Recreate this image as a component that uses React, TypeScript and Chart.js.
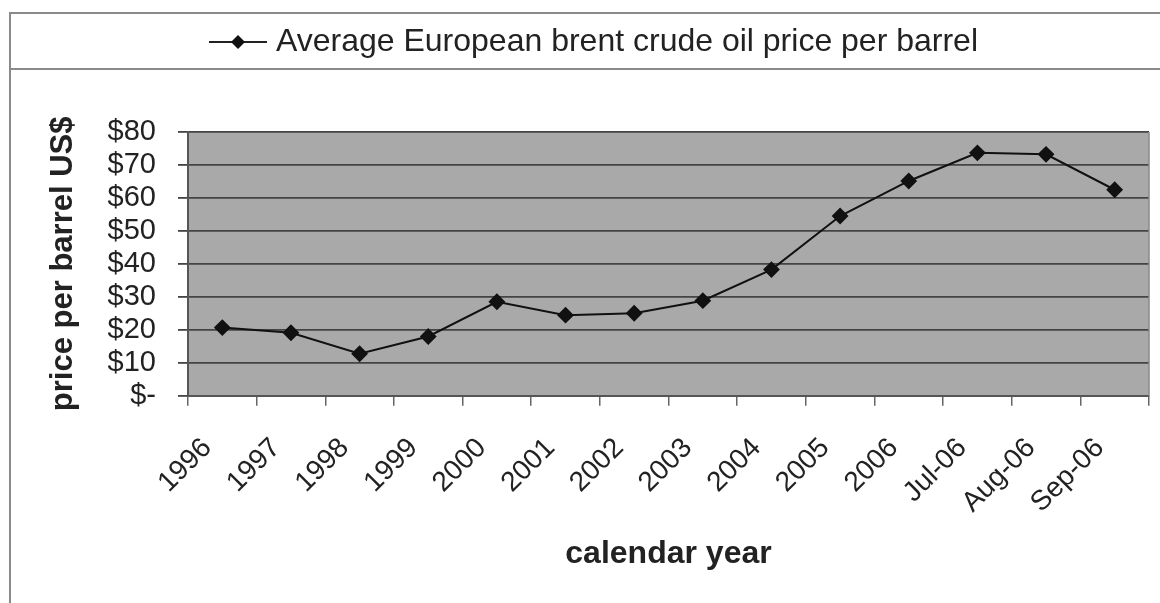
import React, { useEffect, useRef } from "react";
import { Chart, registerables } from "chart.js";

Chart.register(...registerables);

const categories = [
  "1996", "1997", "1998", "1999", "2000", "2001", "2002",
  "2003", "2004", "2005", "2006", "Jul-06", "Aug-06", "Sep-06",
];
const brentPrices = [
  20.67, 19.09, 12.72, 17.97, 28.5, 24.44, 25.02,
  28.83, 38.27, 54.52, 65.14, 73.67, 73.23, 62.48,
];
const yTickValues = [0, 10, 20, 30, 40, 50, 60, 70, 80];
const seriesLabel = "Average European brent crude oil price per barrel";
const yTitle = "price per barrel US$";
const xTitle = "calendar year";

const FONT = "'Liberation Sans', Arial, sans-serif";

export default function App() {
  const ref = useRef<HTMLCanvasElement | null>(null);

  useEffect(() => {
    if (!ref.current) return;

    const legendIcon = document.createElement("canvas");
    legendIcon.width = 58;
    legendIcon.height = 18;
    const ic = legendIcon.getContext("2d")!;
    ic.strokeStyle = "#222";
    ic.lineWidth = 2;
    ic.beginPath();
    ic.moveTo(0, 9);
    ic.lineTo(58, 9);
    ic.stroke();
    ic.fillStyle = "#111";
    ic.beginPath();
    ic.moveTo(29, 2);
    ic.lineTo(36, 9);
    ic.lineTo(29, 16);
    ic.lineTo(22, 9);
    ic.closePath();
    ic.fill();

    const framePlugin = {
      id: "frame",
      beforeDraw(chart: any) {
        const { ctx, chartArea } = chart;
        ctx.save();
        ctx.fillStyle = "#ffffff";
        ctx.fillRect(0, 0, chart.width, chart.height);
        ctx.fillStyle = "#a9a9a9";
        ctx.fillRect(
          chartArea.left,
          chartArea.top,
          chartArea.right - chartArea.left,
          chartArea.bottom - chartArea.top
        );
        ctx.strokeStyle = "#8a8a8a";
        ctx.lineWidth = 2;
        ctx.strokeRect(10, 13, chart.width + 20, chart.height + 20);
        ctx.beginPath();
        ctx.moveTo(10, 69);
        ctx.lineTo(chart.width, 69);
        ctx.stroke();
        ctx.restore();
      },
      beforeDatasetsDraw(chart: any) {
        const { ctx, chartArea } = chart;
        ctx.save();
        ctx.strokeStyle = "#888";
        ctx.lineWidth = 1.5;
        ctx.beginPath();
        ctx.moveTo(chartArea.right, chartArea.top);
        ctx.lineTo(chartArea.right, chartArea.bottom);
        ctx.stroke();
        ctx.restore();
      },
    };

    const chart = new Chart(ref.current, {
      type: "line",
      data: {
        labels: categories,
        datasets: [
          {
            label: seriesLabel,
            data: brentPrices,
            borderColor: "#111",
            backgroundColor: "#111",
            borderWidth: 2,
            pointStyle: "rectRot",
            pointRadius: 7,
            pointBackgroundColor: "#111",
            pointBorderColor: "#111",
            tension: 0,
          },
        ],
      },
      options: {
        responsive: false,
        animation: false,
        layout: { padding: { left: 45, right: 11, top: 0, bottom: 30 } },
        plugins: {
          legend: {
            display: true,
            position: "top",
            labels: {
              usePointStyle: true,
              pointStyle: legendIcon as any,
              pointStyleWidth: 44,
              padding: 26,
              color: "#222",
              font: { family: FONT, size: 32 },
            },
          },
          title: {
            display: true,
            text: "",
            position: "top",
            weight: 500,
            padding: { top: 52, bottom: 0 },
            font: { size: 10, lineHeight: 1.2 },
          },
          tooltip: { enabled: false },
        },
        scales: {
          x: {
            type: "category",
            offset: true,
            grid: {
              display: true,
              offset: true,
              drawOnChartArea: false,
              drawTicks: true,
              tickLength: 10,
              color: "#666",
              lineWidth: 1.5,
            },
            border: { display: true, color: "#555", width: 2 },
            ticks: {
              autoSkip: false,
              maxRotation: 45,
              minRotation: 45,
              padding: 26,
              labelOffset: -15,
              color: "#222",
              font: { family: FONT, size: 28 },
            },
            title: {
              display: true,
              text: xTitle,
              color: "#222",
              padding: { top: 0, bottom: 0 },
              font: { family: FONT, size: 32, weight: "bold", lineHeight: 1.2 },
            },
            afterFit(scale: any) {
              scale.height = 177.3;
              scale.paddingRight = 11;
              scale.paddingLeft = 0;
            },
          },
          y: {
            min: 0,
            max: 80,
            afterBuildTicks(scale: any) {
              scale.ticks = yTickValues.map((v) => ({ value: v }));
            },
            grid: {
              color: "#444",
              lineWidth: 1.8,
              tickLength: 10,
              drawTicks: true,
            },
            border: { display: true, color: "#555", width: 2 },
            ticks: {
              autoSkip: false,
              padding: 22,
              color: "#222",
              font: { family: FONT, size: 29, lineHeight: 1 },
              callback: (v: any) => (Number(v) === 0 ? "$-" : "$" + v),
            },
            title: {
              display: true,
              text: yTitle,
              color: "#222",
              padding: { top: 0, bottom: 0 },
              font: { family: FONT, size: 31, weight: "bold", lineHeight: 1.2 },
            },
            afterFit(scale: any) {
              scale.width = 143;
            },
          },
        },
      },
      plugins: [framePlugin],
    });

    return () => chart.destroy();
  }, []);

  return (
    <div style={{ position: "absolute", left: 0, top: 0, width: 1160, height: 603 }}>
      <canvas ref={ref} width={1160} height={603} style={{ display: "block" }} />
    </div>
  );
}
